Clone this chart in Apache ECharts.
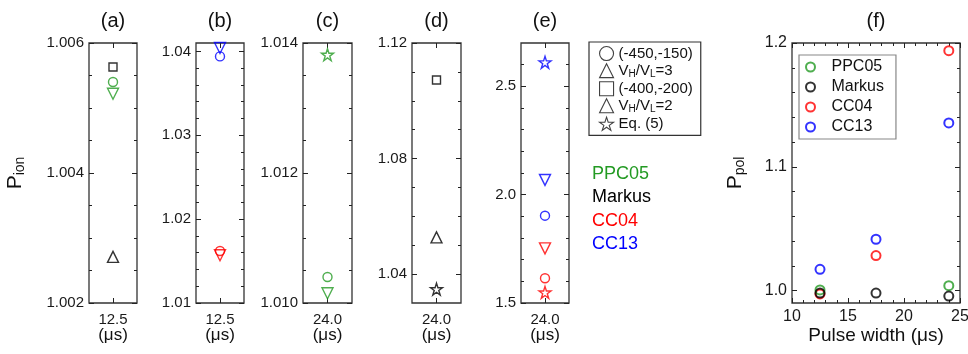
<!DOCTYPE html>
<html><head><meta charset="utf-8">
<script src="https://cdn.jsdelivr.net/npm/echarts@6/dist/echarts.min.js"></script>
<style>html,body{margin:0;padding:0;background:#fff}#c{width:968px;height:354px}</style>
</head><body><div id="c"></div>
<script>
// ---------------- DATA ----------------
const instruments = ['PPC05', 'Markus', 'CC04', 'CC13'];
const shapeKeys = ['circle', 'down', 'square', 'up', 'star'];
const shapeLabels = ['(-450,-150)', 'V_H/V_L=3', '(-400,-200)', 'V_H/V_L=2', 'Eq. (5)'];
const panelTitles = ['(a)', '(b)', '(c)', '(d)', '(e)', '(f)'];
const panelCategories = ['12.5', '12.5', '24.0', '24.0', '24.0'];

// P_ion values per panel: [instrument, shape, value]
const pionA = [['Markus', 'square', 1.00563], ['PPC05', 'circle', 1.0054], ['PPC05', 'down', 1.00522], ['Markus', 'up', 1.00271]];
const pionB = [['CC13', 'down', 1.0404], ['CC13', 'circle', 1.0394], ['CC04', 'circle', 1.0162], ['CC04', 'down', 1.0157]];
const pionC = [['PPC05', 'star', 1.01382], ['PPC05', 'circle', 1.0104], ['PPC05', 'down', 1.01015]];
const pionD = [['Markus', 'square', 1.1072], ['Markus', 'up', 1.0527], ['Markus', 'star', 1.0348]];
const pionE = [['CC13', 'star', 2.611], ['CC13', 'down', 2.068], ['CC13', 'circle', 1.903], ['CC04', 'down', 1.752], ['CC04', 'circle', 1.614], ['CC04', 'star', 1.549]];

// P_pol vs pulse width
const pulseWidths = [12.5, 17.5, 24.0];
const ppolPPC05 = [1.0006, null, 1.004];
const ppolMarkus = [0.998, 0.998, 0.9956];
const ppolCC04 = [0.9973, 1.0283, 1.1938];
const ppolCC13 = [1.0172, 1.0415, 1.1354];

// tick labels
const yTicksA = [1.002, 1.004, 1.006];
const yTicksB = [1.01, 1.02, 1.03, 1.04];
const yTicksC = [1.010, 1.012, 1.014];
const yTicksD = [1.04, 1.08, 1.12];
const yTicksE = [1.5, 2.0, 2.5];
const yTicksF = [1.0, 1.1, 1.2];
const xTicksF = [10, 15, 20, 25];

// ---------------- STYLE ----------------
const FONT = '"Liberation Sans", Arial, sans-serif';
const colorOf = { PPC05: '#239a23', Markus: '#000000', CC04: '#ff0000', CC13: '#0000ff' };
const STAR = 'path://M50,2 L61.2,36.3 L97.6,36.3 L68.2,57.6 L79.4,92 L50,70.7 L20.6,92 L31.8,57.6 L2.4,36.3 L38.8,36.3 Z';
const shapeStyle = {
  circle: { symbol: 'circle', size: 9, rotate: 0 },
  down: { symbol: 'triangle', size: 11, rotate: 180 },
  square: { symbol: 'rect', size: 8, rotate: 0 },
  up: { symbol: 'triangle', size: 11, rotate: 0 },
  star: { symbol: STAR, size: 12, rotate: 0 }
};
const panels = [
  { pts: pionA, min: 1.002, max: 1.006, majors: yTicksA, step: 0.0005, dec: 3, rect: [89, 43, 48, 260], name: '{p|P}{s|ion}' },
  { pts: pionB, min: 1.01, max: 1.041, majors: yTicksB, step: 0.002, dec: 2, rect: [196, 43, 48, 260] },
  { pts: pionC, min: 1.010, max: 1.014, majors: yTicksC, step: 0.0005, dec: 3, rect: [303, 43, 49, 260] },
  { pts: pionD, min: 1.03, max: 1.12, majors: yTicksD, step: 0.01, dec: 2, rect: [412, 43, 49, 260] },
  { pts: pionE, min: 1.5, max: 2.7, majors: yTicksE, step: 0.1, dec: 1, rect: [521, 43, 48, 260] }
];
const fRect = [792, 43, 168, 260];

function minorsOf(min, max, step, majors) {
  const out = [];
  const k0 = Math.ceil(min / step - 1e-6), k1 = Math.floor(max / step + 1e-6);
  for (let k = k0; k <= k1; k++) {
    const v = +(k * step).toFixed(6);
    if (majors.some(m => Math.abs(m - v) < step / 10)) continue;
    if (Math.abs(v - min) < step / 10 || Math.abs(v - max) < step / 10) continue;
    out.push(v);
  }
  return out;
}

const grid = [], xAxis = [], yAxis = [], series = [], title = [];
const tickLine = { color: '#222', width: 1 };

function addYAxes(gi, min, max, majors, minors, dec, name, nameGap, nameFont) {
  const base = { type: 'value', gridIndex: gi, min, max, axisLine: { show: false }, splitLine: { show: false } };
  const idx = yAxis.length;
  yAxis.push(Object.assign({}, base, {
    position: 'left',
    axisTick: { show: true, inside: true, length: 5, customValues: majors, lineStyle: tickLine },
    axisLabel: { show: true, customValues: majors, formatter: v => v.toFixed(dec), fontSize: 15, color: '#1a1a1a', margin: 5, fontFamily: FONT },
    name: name || '', nameLocation: 'middle', nameRotate: 90, nameGap: nameGap || 0, nameMoveOverlap: false,
    nameTextStyle: { fontSize: nameFont || 21, color: '#111', fontFamily: FONT,
      rich: { p: { fontSize: nameFont || 21, color: '#111', fontFamily: FONT }, s: { fontSize: 14, color: '#111', fontFamily: FONT, padding: [10, 0, 0, 0] } } }
  }));
  yAxis.push(Object.assign({}, base, { position: 'left', axisLabel: { show: false },
    axisTick: { show: true, inside: true, length: 3, customValues: minors, lineStyle: tickLine } }));
  yAxis.push(Object.assign({}, base, { position: 'right', axisLabel: { show: false },
    axisTick: { show: true, inside: true, length: 5, customValues: majors, lineStyle: tickLine } }));
  yAxis.push(Object.assign({}, base, { position: 'right', axisLabel: { show: false },
    axisTick: { show: true, inside: true, length: 3, customValues: minors, lineStyle: tickLine } }));
  return idx;
}

panels.forEach((p, gi) => {
  const [l, t, w, h] = p.rect;
  grid.push({ left: l, top: t, width: w, height: h, show: true, borderColor: '#333', borderWidth: 1.3, backgroundColor: 'transparent', outerBoundsMode: 'none', containLabel: false });
  title.push({ text: panelTitles[gi], left: l + w / 2, top: 11, textAlign: 'center', padding: 0,
    textStyle: { fontSize: 20, fontWeight: 'normal', color: '#111', fontFamily: FONT } });
  const xi = xAxis.length;
  xAxis.push({ type: 'category', gridIndex: gi, position: 'bottom', data: [panelCategories[gi]], boundaryGap: true,
    axisLine: { show: false }, splitLine: { show: false },
    axisTick: { show: true, inside: true, alignWithLabel: true, length: 5, lineStyle: tickLine },
    axisLabel: { fontSize: 15, color: '#1a1a1a', margin: 9, fontFamily: FONT },
    name: '(\u03bcs)', nameLocation: 'middle', nameGap: 24, nameMoveOverlap: false,
    nameTextStyle: { fontSize: 17, color: '#111', fontFamily: FONT } });
  xAxis.push({ type: 'category', gridIndex: gi, position: 'top', data: [panelCategories[gi]], boundaryGap: true,
    axisLine: { show: false }, splitLine: { show: false }, axisLabel: { show: false },
    axisTick: { show: true, inside: true, alignWithLabel: true, length: 5, lineStyle: tickLine } });
  const yi = addYAxes(gi, p.min, p.max, p.majors, minorsOf(p.min, p.max, p.step, p.majors), p.dec, p.name, 62, 21);
  p.pts.forEach(([inst, shp, val]) => {
    const s = shapeStyle[shp];
    series.push({ type: 'scatter', name: gi + '-' + inst + '-' + shp, xAxisIndex: xi, yAxisIndex: yi,
      symbol: s.symbol, symbolSize: s.size, symbolRotate: s.rotate,
      itemStyle: { color: 'rgba(255,255,255,0)', borderColor: colorOf[inst], borderWidth: 1.4 },
      data: [[panelCategories[gi], val]] });
  });
});

// Panel f
{
  const gi = grid.length;
  const [l, t, w, h] = fRect;
  grid.push({ left: l, top: t, width: w, height: h, show: true, borderColor: '#333', borderWidth: 1.3, backgroundColor: 'transparent', outerBoundsMode: 'none', containLabel: false });
  title.push({ text: panelTitles[5], left: l + w / 2, top: 11, textAlign: 'center', padding: 0,
    textStyle: { fontSize: 20, fontWeight: 'normal', color: '#111', fontFamily: FONT } });
  const xi = xAxis.length;
  xAxis.push({ type: 'value', gridIndex: gi, position: 'bottom', min: 10, max: 25, interval: 5,
    axisLine: { show: false }, splitLine: { show: false },
    axisTick: { show: true, inside: true, length: 5, lineStyle: tickLine },
    minorTick: { show: true, splitNumber: 5, length: 3, lineStyle: tickLine },
    axisLabel: { fontSize: 16, color: '#1a1a1a', margin: 6, fontFamily: FONT, showMinLabel: true, showMaxLabel: true },
    name: 'Pulse width (\u03bcs)', nameLocation: 'middle', nameGap: 23, nameMoveOverlap: false,
    nameTextStyle: { fontSize: 19, color: '#111', fontFamily: FONT } });
  xAxis.push({ type: 'value', gridIndex: gi, position: 'top', min: 10, max: 25, interval: 5,
    axisLine: { show: false }, splitLine: { show: false }, axisLabel: { show: false },
    axisTick: { show: true, inside: true, length: 5, lineStyle: tickLine },
    minorTick: { show: true, splitNumber: 5, length: 3, lineStyle: tickLine } });
  const yi = addYAxes(gi, 0.99, 1.2, yTicksF, minorsOf(0.99, 1.2, 0.02, yTicksF), 1, '{p|P}{s|pol}', 45, 21);
  yAxis[yi].axisLabel.fontSize = 16;
  const vals = { PPC05: ppolPPC05, Markus: ppolMarkus, CC04: ppolCC04, CC13: ppolCC13 };
  ['CC04', 'PPC05', 'Markus', 'CC13'].forEach(inst => {
    series.push({ type: 'scatter', name: inst, xAxisIndex: xi, yAxisIndex: yi, symbol: 'circle', symbolSize: 9,
      itemStyle: { color: 'rgba(255,255,255,0)', borderColor: colorOf[inst], borderWidth: 2 },
      data: pulseWidths.map((x, i) => [x, vals[inst][i]]).filter(d => d[1] !== null) });
  });
}

// dummy series for the shape legend
shapeKeys.forEach((k, i) => {
  const s = shapeStyle[k];
  series.push({ type: 'scatter', name: shapeLabels[i], xAxisIndex: 0, yAxisIndex: 0, symbol: s.symbol, symbolSize: s.size, symbolRotate: s.rotate,
    itemStyle: { color: 'rgba(255,255,255,0)', borderColor: '#111', borderWidth: 1.2 }, data: [] });
});

const legendRich = n => n.split(/(V_[HL])/).filter(Boolean)
  .map(part => part.startsWith('V_') ? '{t|V}{s|' + part[2] + '}' : '{t|' + part + '}').join('');

const option = {
  animation: false,
  backgroundColor: '#fff',
  textStyle: { fontFamily: FONT },
  title, grid, xAxis, yAxis, series,
  legend: [
    { orient: 'vertical', left: 589, top: 42, selectedMode: false,
      data: shapeLabels.map(n => ({ name: n })),
      itemWidth: 14, itemHeight: 14, itemGap: 2, padding: [4, 8, 4, 10],
      borderColor: '#333', borderWidth: 1.2,
      itemStyle: { borderWidth: 1.1, borderColor: '#111', color: 'rgba(255,255,255,0)' },
      formatter: legendRich,
      textStyle: { fontSize: 15, color: '#111', fontFamily: FONT,
        rich: { t: { fontSize: 15, color: '#111', fontFamily: FONT }, s: { fontSize: 10, color: '#111', fontFamily: FONT, padding: [7, 0, 0, 0] } } } },
    { orient: 'vertical', left: 799, top: 55, selectedMode: false,
      data: instruments.map(n => ({ name: n })),
      itemWidth: 24, itemHeight: 9, itemGap: 4, padding: [4, 12, 4, 6],
      borderColor: '#888', borderWidth: 1.2,
      itemStyle: { borderWidth: 2 },
      textStyle: { fontSize: 16, color: '#111', fontFamily: FONT, padding: [0, 0, 0, 4] } }
  ],
  graphic: instruments.map((n, i) => ({ type: 'text', left: 592, top: 165 + i * 23.3,
    style: { text: n, fill: colorOf[n], font: '18px ' + FONT } }))
};

const chart = echarts.init(document.getElementById('c'), null, { renderer: 'canvas' });
chart.setOption(option);
</script>
</body></html>
